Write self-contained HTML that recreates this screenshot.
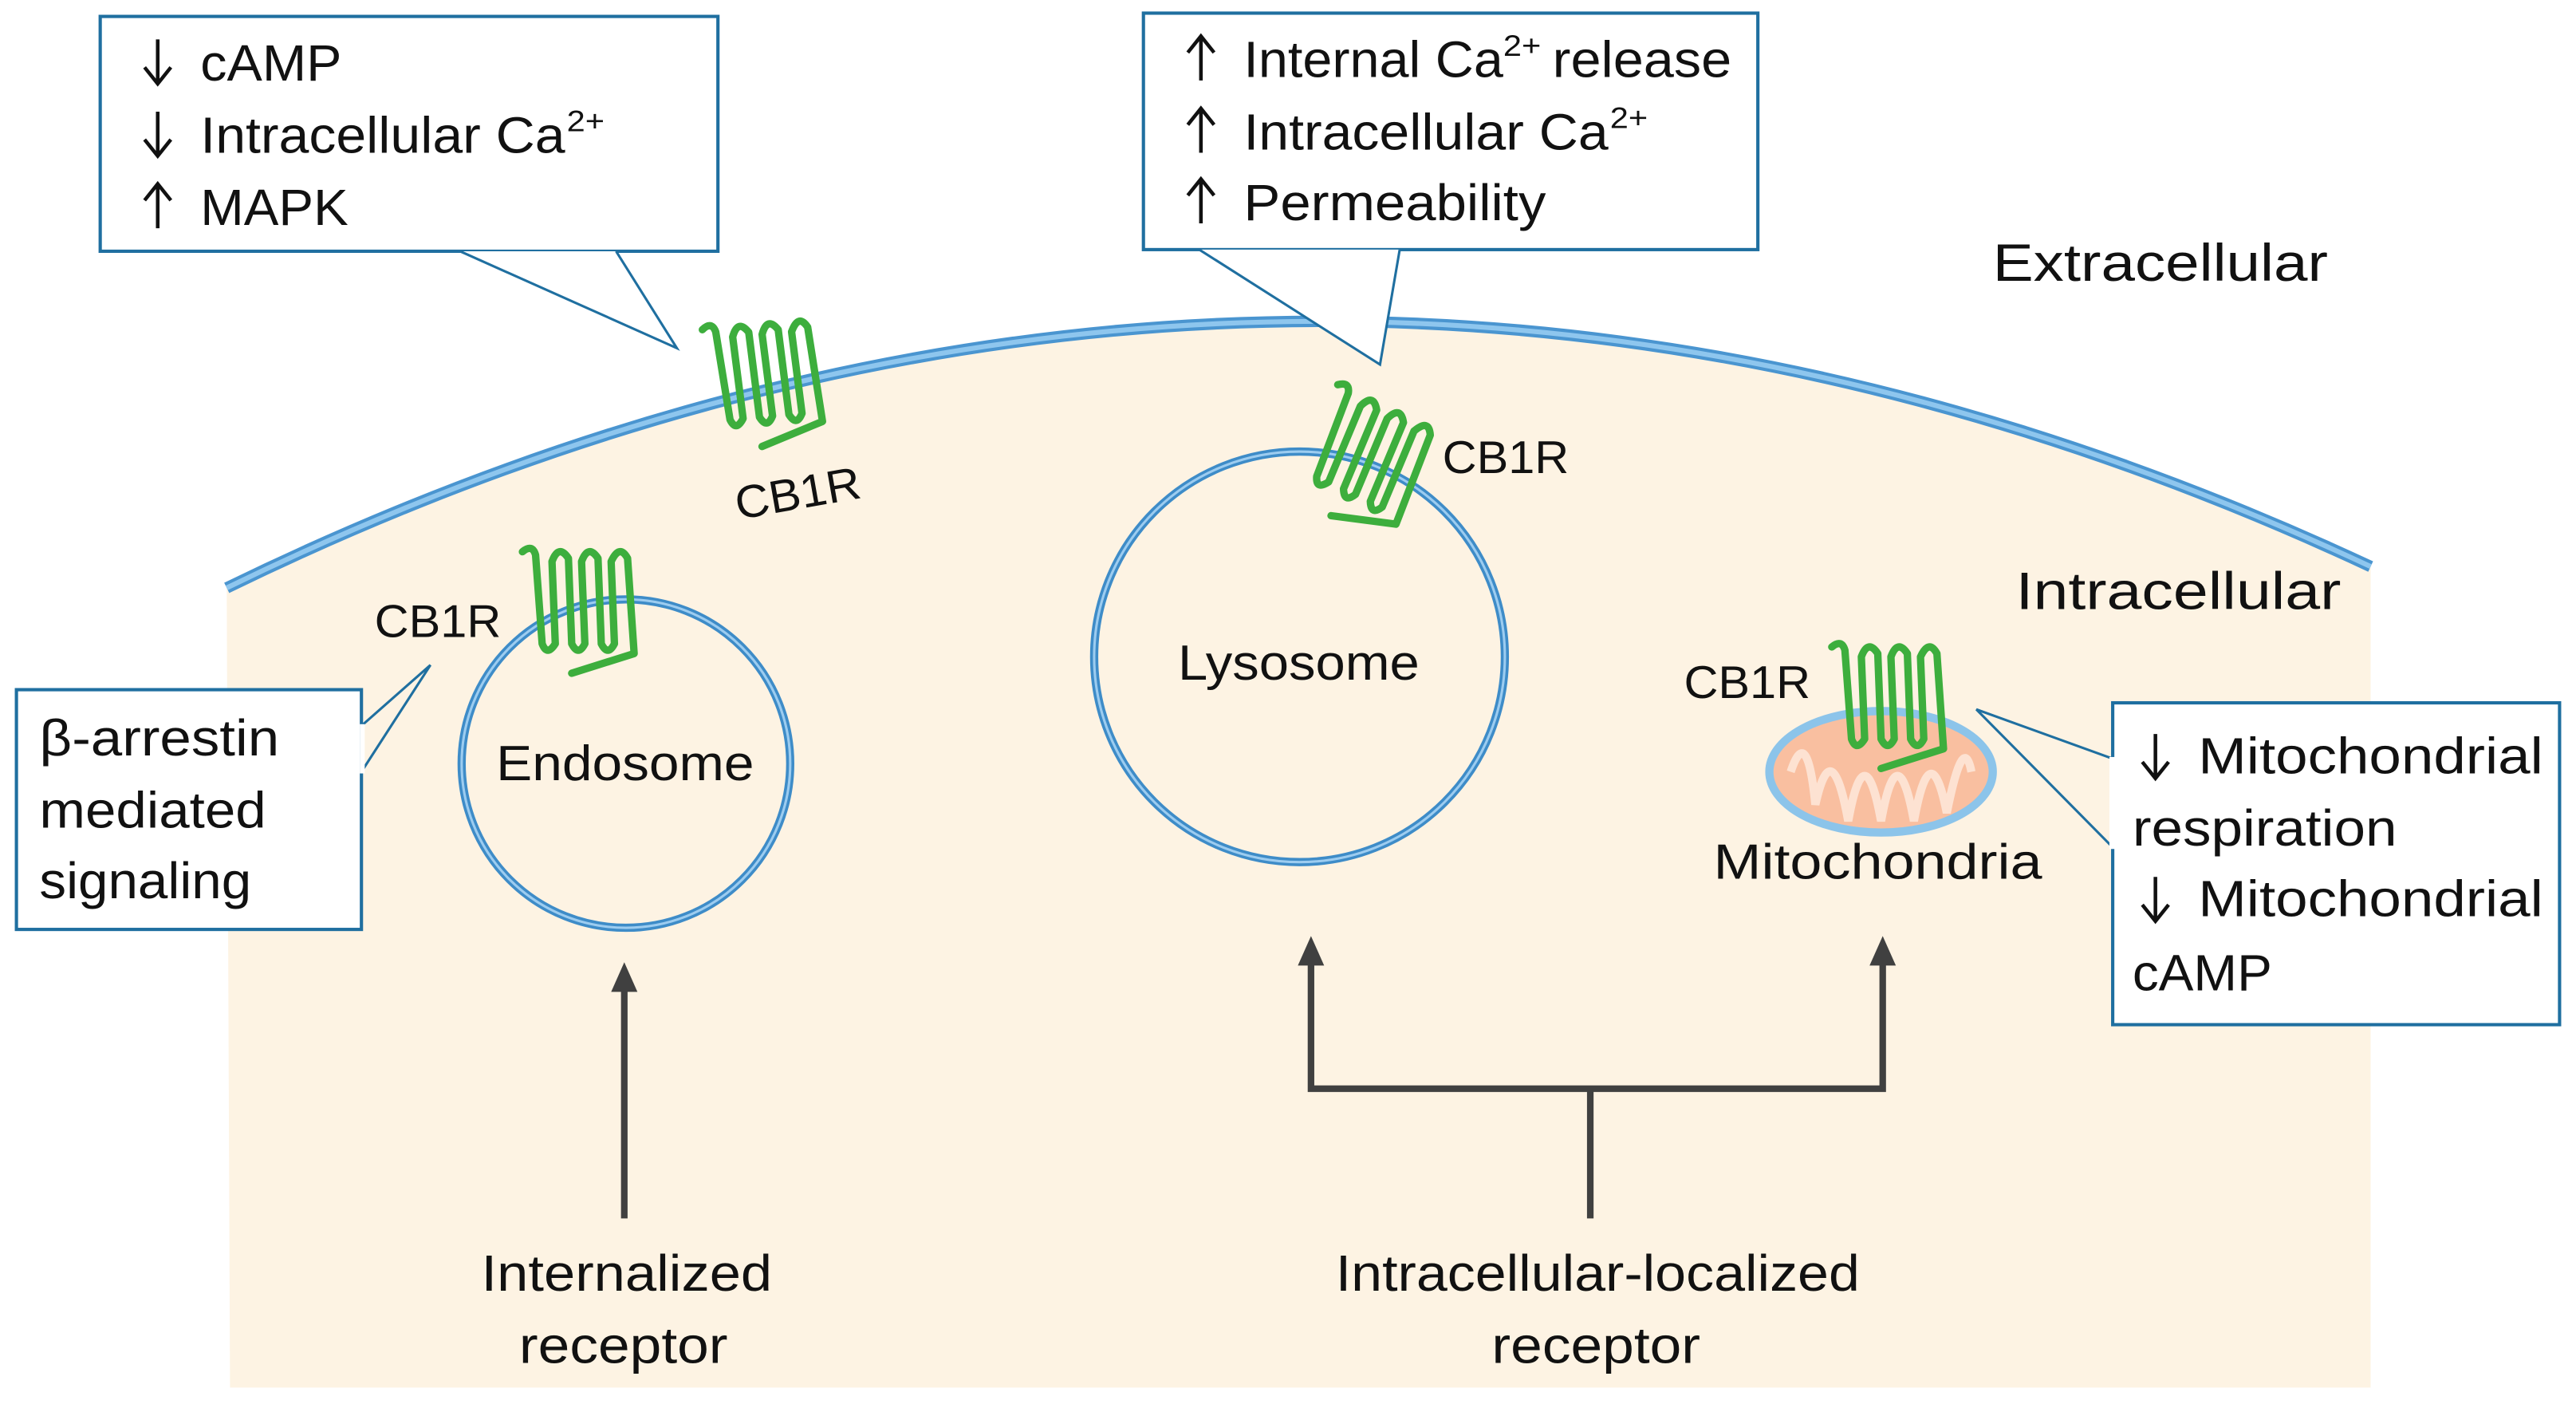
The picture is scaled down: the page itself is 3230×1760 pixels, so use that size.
<!DOCTYPE html>
<html><head><meta charset="utf-8"><style>
html,body{margin:0;padding:0;background:#fff;}
svg{display:block;}
text{font-family:"Liberation Sans",sans-serif;fill:#111;}
</style></head><body>
<svg width="3230" height="1760" viewBox="0 0 1568 855" preserveAspectRatio="none" xmlns="http://www.w3.org/2000/svg">
<defs>
<g id="rec" fill="none" stroke="#3DAE3D" stroke-width="4.5" stroke-linejoin="round" stroke-linecap="round">
<path d="M2,6 Q8,1 10,8 L14,62 Q17,70 22,62 L20,12 Q24,1 30,10 L32,62 Q36,70 40,62 L38,12 Q42,1 48,10 L50,62 Q54,70 58,62 L56,12 Q61,1 66,10 L70,68 L32,80"/>
</g>
<g id="dn" fill="none" stroke="#111" stroke-width="2.2"><path d="M0,0 L0,27 M-8,17 L0,27 L8,17"/></g>
<g id="up" fill="none" stroke="#111" stroke-width="2.2"><path d="M0,27 L0,0 M-8,10 L0,0 L8,10"/></g>
</defs>
<!-- cell -->
<path d="M138,358 Q790,40 1443,345 L1443,845 L140,845 Z" fill="#FDF3E3"/>
<path d="M138,358 Q790,40 1443,345" fill="none" stroke="#4A95D0" stroke-width="7"/>
<path d="M138,358 Q790,40 1443,345" fill="none" stroke="#8EC6EE" stroke-width="3"/>
<!-- box1 -->
<rect x="61" y="10" width="376" height="143" fill="#fff" stroke="#1F6FA0" stroke-width="2"/>
<polygon points="280,153 412,212 375,153" fill="#fff"/>
<polyline points="280,153 412,212 375,153" fill="none" stroke="#1F6FA0" stroke-width="1.5"/>
<use href="#dn" x="96" y="24"/>
<text x="122" y="49" font-size="31" textLength="86" lengthAdjust="spacingAndGlyphs">cAMP</text>
<use href="#dn" x="96" y="68"/>
<text x="122" y="93" font-size="31" textLength="222" lengthAdjust="spacingAndGlyphs">Intracellular Ca</text>
<text x="345" y="80" font-size="18" textLength="23" lengthAdjust="spacingAndGlyphs">2+</text>
<use href="#up" x="96" y="112"/>
<text x="122" y="137" font-size="31" textLength="90" lengthAdjust="spacingAndGlyphs">MAPK</text>
<!-- box2 -->
<rect x="696" y="8" width="374" height="144" fill="#fff" stroke="#1F6FA0" stroke-width="2"/>
<polygon points="730,152 840,222 852,152" fill="#fff"/>
<polyline points="730,152 840,222 852,152" fill="none" stroke="#1F6FA0" stroke-width="1.5"/>
<use href="#up" x="731" y="22"/>
<text x="757" y="47" font-size="31" textLength="158" lengthAdjust="spacingAndGlyphs">Internal Ca</text>
<text x="915" y="34" font-size="18" textLength="23" lengthAdjust="spacingAndGlyphs">2+</text>
<text x="945" y="47" font-size="31" textLength="109" lengthAdjust="spacingAndGlyphs">release</text>
<use href="#up" x="731" y="66"/>
<text x="757" y="91" font-size="31" textLength="222" lengthAdjust="spacingAndGlyphs">Intracellular Ca</text>
<text x="980" y="78" font-size="18" textLength="23" lengthAdjust="spacingAndGlyphs">2+</text>
<use href="#up" x="731" y="109"/>
<text x="757" y="134" font-size="31" textLength="184" lengthAdjust="spacingAndGlyphs">Permeability</text>
<text x="1213" y="171" font-size="32" textLength="204" lengthAdjust="spacingAndGlyphs">Extracellular</text>
<text x="1227" y="371" font-size="32" textLength="198" lengthAdjust="spacingAndGlyphs">Intracellular</text>
<!-- box3 -->
<rect x="10" y="420" width="210" height="146" fill="#fff" stroke="#1F6FA0" stroke-width="2"/>
<polygon points="220,470 262,405 220,442" fill="#FDF3E3"/>
<polyline points="220,470 262,405 220,442" fill="none" stroke="#1F6FA0" stroke-width="1.5"/>
<rect x="219" y="441" width="3" height="30" fill="#fff"/>
<text x="24" y="460" font-size="31" textLength="146" lengthAdjust="spacingAndGlyphs">β-arrestin</text>
<text x="24" y="504" font-size="31" textLength="138" lengthAdjust="spacingAndGlyphs">mediated</text>
<text x="24" y="547" font-size="31" textLength="129" lengthAdjust="spacingAndGlyphs">signaling</text>
<!-- box4 -->
<rect x="1286" y="428" width="272" height="196" fill="#fff" stroke="#1F6FA0" stroke-width="2"/>
<polygon points="1286,462 1203,432 1286,516" fill="#FDF3E3"/>
<polyline points="1286,462 1203,432 1286,516" fill="none" stroke="#1F6FA0" stroke-width="1.5"/>
<rect x="1284" y="461" width="4" height="56" fill="#fff"/>
<use href="#dn" x="1312" y="447"/>
<text x="1338" y="471" font-size="31" textLength="210" lengthAdjust="spacingAndGlyphs">Mitochondrial</text>
<text x="1298" y="515" font-size="31" textLength="161" lengthAdjust="spacingAndGlyphs">respiration</text>
<use href="#dn" x="1312" y="534"/>
<text x="1338" y="558" font-size="31" textLength="210" lengthAdjust="spacingAndGlyphs">Mitochondrial</text>
<text x="1298" y="603" font-size="31" textLength="85" lengthAdjust="spacingAndGlyphs">cAMP</text>
<!-- endosome -->
<circle cx="381" cy="465" r="100" fill="none" stroke="#3E8CC8" stroke-width="5"/>
<circle cx="381" cy="465" r="100" fill="none" stroke="#9CCCF0" stroke-width="1.5"/>
<text x="302" y="475" font-size="30" textLength="157" lengthAdjust="spacingAndGlyphs">Endosome</text>
<!-- lysosome -->
<circle cx="791" cy="400" r="125" fill="none" stroke="#3E8CC8" stroke-width="5"/>
<circle cx="791" cy="400" r="125" fill="none" stroke="#9CCCF0" stroke-width="1.5"/>
<text x="717" y="414" font-size="30" textLength="147" lengthAdjust="spacingAndGlyphs">Lysosome</text>
<!-- mitochondria -->
<ellipse cx="1145" cy="470" rx="68" ry="37" fill="#F9BFA0" stroke="#8CC4EA" stroke-width="5"/>
<path d="M1090,470 Q1100,440 1105,490 Q1115,445 1125,500 Q1135,445 1145,500 Q1155,445 1165,500 Q1175,445 1185,495 Q1195,445 1200,470" fill="none" stroke="#FDE2D2" stroke-width="5"/>
<text x="1043" y="535" font-size="30" textLength="200" lengthAdjust="spacingAndGlyphs">Mitochondria</text>
<!-- receptors -->
<use href="#rec" transform="translate(425,195) rotate(-5)"/>
<text x="447" y="310" font-size="28" textLength="77" lengthAdjust="spacingAndGlyphs" transform="rotate(-10 485 300)">CB1R</text>
<use href="#rec" transform="translate(316,330)"/>
<text x="228" y="388" font-size="28" textLength="77" lengthAdjust="spacingAndGlyphs">CB1R</text>
<use href="#rec" transform="translate(815,228) rotate(25)"/>
<text x="878" y="288" font-size="28" textLength="77" lengthAdjust="spacingAndGlyphs">CB1R</text>
<use href="#rec" transform="translate(1113,388)"/>
<text x="1025" y="425" font-size="28" textLength="77" lengthAdjust="spacingAndGlyphs">CB1R</text>
<!-- arrows -->
<g stroke="#404040" stroke-width="4" fill="none">
<line x1="380" y1="742" x2="380" y2="600"/>
<polyline points="968,742 968,663"/>
<polyline points="798,585 798,663 1146,663 1146,585"/>
</g>
<g fill="#404040">
<polygon points="372,604 380,586 388,604"/>
<polygon points="790,588 798,570 806,588"/>
<polygon points="1138,588 1146,570 1154,588"/>
</g>
<text x="293" y="786" font-size="31" textLength="177" lengthAdjust="spacingAndGlyphs">Internalized</text>
<text x="316" y="830" font-size="31" textLength="127" lengthAdjust="spacingAndGlyphs">receptor</text>
<text x="813" y="786" font-size="31" textLength="319" lengthAdjust="spacingAndGlyphs">Intracellular-localized</text>
<text x="908" y="830" font-size="31" textLength="127" lengthAdjust="spacingAndGlyphs">receptor</text>
</svg>
</body></html>
